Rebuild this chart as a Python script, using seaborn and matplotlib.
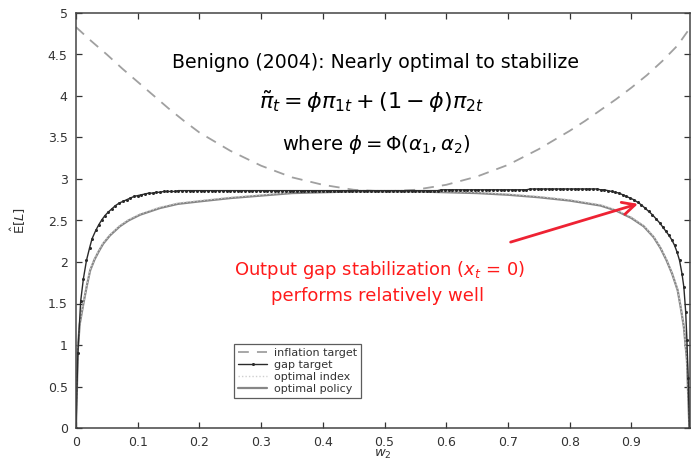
import numpy as np
import pandas as pd
import matplotlib
matplotlib.use("Agg")
import matplotlib.pyplot as plt
import seaborn as sns

# ---------------- data ----------------
infl_x = [0.0, 0.025, 0.05, 0.075, 0.1, 0.125, 0.15, 0.175, 0.2, 0.25, 0.3, 0.35, 0.4,
          0.45, 0.5, 0.55, 0.6, 0.65, 0.7, 0.75, 0.8, 0.825, 0.85, 0.875, 0.9, 0.925,
          0.95, 0.975, 0.995]
infl_y = [4.83, 4.66, 4.50, 4.33, 4.17, 4.01, 3.85, 3.70, 3.56, 3.34, 3.16, 3.02, 2.93,
          2.87, 2.85, 2.87, 2.93, 3.03, 3.17, 3.36, 3.58, 3.70, 3.83, 3.96, 4.10, 4.25,
          4.42, 4.61, 4.82]

gap_x = [0.0, 0.003, 0.0076, 0.012, 0.017, 0.022, 0.026, 0.032, 0.037, 0.042, 0.047,
         0.052, 0.058, 0.064, 0.070, 0.076, 0.082, 0.088, 0.094, 0.100, 0.106, 0.112,
         0.118, 0.124, 0.130, 0.136, 0.142, 0.148, 0.154, 0.160, 0.166, 0.172, 0.178,
         0.184, 0.190, 0.196, 0.202, 0.208, 0.214, 0.220, 0.226, 0.232, 0.238, 0.244,
         0.250, 0.256, 0.262, 0.268, 0.274, 0.280, 0.286, 0.292, 0.298, 0.304, 0.310,
         0.316, 0.322, 0.328, 0.334, 0.340, 0.346, 0.352, 0.358, 0.364, 0.370, 0.376,
         0.382, 0.388, 0.394, 0.400, 0.406, 0.412, 0.418, 0.424, 0.430, 0.436, 0.442,
         0.448, 0.454, 0.460, 0.466, 0.472, 0.478, 0.484, 0.490, 0.496, 0.502, 0.508,
         0.514, 0.520, 0.526, 0.532, 0.538, 0.544, 0.550, 0.556, 0.562, 0.568, 0.574,
         0.580, 0.586, 0.592, 0.598, 0.604, 0.610, 0.616, 0.622, 0.628, 0.634, 0.640,
         0.646, 0.652, 0.658, 0.664, 0.670, 0.676, 0.682, 0.688, 0.694, 0.700, 0.706,
         0.712, 0.718, 0.724, 0.730, 0.736, 0.742, 0.748, 0.754, 0.760, 0.766, 0.772,
         0.778, 0.784, 0.790, 0.796, 0.802, 0.808, 0.814, 0.820, 0.826, 0.832, 0.838,
         0.844, 0.850, 0.856, 0.862, 0.868, 0.874, 0.880, 0.886, 0.892, 0.898, 0.904,
         0.910, 0.916, 0.922, 0.928, 0.934, 0.940, 0.946, 0.951, 0.956, 0.961, 0.966,
         0.970, 0.974, 0.978, 0.982, 0.985, 0.988, 0.990, 0.992, 0.994]
gap_y = [0.0, 0.90, 1.53, 1.80, 2.02, 2.17, 2.28, 2.38, 2.45, 2.51, 2.56,
         2.60, 2.64, 2.68, 2.71, 2.73, 2.75, 2.77, 2.79, 2.80, 2.81, 2.82,
         2.83, 2.83, 2.84, 2.84, 2.85, 2.85, 2.85, 2.85, 2.86, 2.86, 2.86,
         2.86, 2.86, 2.86, 2.86, 2.86, 2.86, 2.86, 2.86, 2.86, 2.86, 2.86,
         2.86, 2.86, 2.86, 2.86, 2.86, 2.86, 2.86, 2.86, 2.86, 2.86, 2.86,
         2.86, 2.86, 2.86, 2.86, 2.86, 2.86, 2.86, 2.86, 2.86, 2.86, 2.86,
         2.86, 2.86, 2.86, 2.86, 2.86, 2.86, 2.86, 2.86, 2.86, 2.86, 2.86,
         2.86, 2.86, 2.86, 2.86, 2.86, 2.86, 2.86, 2.86, 2.86, 2.86, 2.86,
         2.86, 2.86, 2.86, 2.86, 2.86, 2.86, 2.86, 2.86, 2.86, 2.86, 2.86,
         2.86, 2.86, 2.87, 2.87, 2.87, 2.87, 2.87, 2.87, 2.87, 2.87, 2.87,
         2.87, 2.87, 2.87, 2.87, 2.87, 2.87, 2.87, 2.87, 2.87, 2.87, 2.87,
         2.87, 2.87, 2.87, 2.87, 2.88, 2.88, 2.88, 2.88, 2.88, 2.88, 2.88,
         2.88, 2.88, 2.88, 2.88, 2.88, 2.88, 2.88, 2.88, 2.88, 2.88, 2.88,
         2.88, 2.87, 2.87, 2.86, 2.85, 2.84, 2.83, 2.81, 2.79, 2.77, 2.75,
         2.72, 2.69, 2.65, 2.61, 2.57, 2.52, 2.47, 2.42, 2.37, 2.32, 2.26,
         2.20, 2.12, 2.02, 1.86, 1.70, 1.40, 1.06, 0.60, 0.0]

index_x = [0.0, 0.003, 0.006, 0.012, 0.018, 0.023, 0.030, 0.037, 0.044, 0.055, 0.071,
           0.085, 0.104, 0.12, 0.136, 0.165, 0.2, 0.25, 0.3, 0.35, 0.4, 0.45, 0.5, 0.55,
           0.6, 0.65, 0.7, 0.75, 0.8, 0.85, 0.875, 0.9, 0.92, 0.936, 0.947, 0.957, 0.966,
           0.975, 0.98, 0.985, 0.99, 0.994]
index_y = [0.0, 0.96, 1.26, 1.51, 1.74, 1.91, 2.04, 2.14, 2.23, 2.33, 2.44,
           2.51, 2.58, 2.62, 2.66, 2.71, 2.74, 2.78, 2.81, 2.84, 2.85, 2.86, 2.86, 2.86,
           2.85, 2.84, 2.82, 2.79, 2.75, 2.69, 2.63, 2.54, 2.44, 2.31, 2.18, 2.03, 1.87,
           1.67, 1.46, 1.23, 0.83, 0.0]

policy_x = [0.0, 0.003, 0.006, 0.012, 0.018, 0.023, 0.030, 0.037, 0.044, 0.055, 0.071,
            0.085, 0.104, 0.12, 0.136, 0.165, 0.2, 0.25, 0.3, 0.35, 0.4, 0.45, 0.5, 0.55,
            0.6, 0.65, 0.7, 0.75, 0.8, 0.85, 0.875, 0.9, 0.92, 0.936, 0.947, 0.957, 0.966,
            0.975, 0.98, 0.985, 0.99, 0.994]
policy_y = [0.0, 0.95, 1.25, 1.50, 1.73, 1.90, 2.03, 2.13, 2.22, 2.32, 2.43,
            2.50, 2.57, 2.61, 2.65, 2.70, 2.73, 2.77, 2.80, 2.83, 2.84, 2.85, 2.85, 2.85,
            2.84, 2.83, 2.81, 2.78, 2.74, 2.68, 2.62, 2.53, 2.43, 2.30, 2.17, 2.02, 1.86,
            1.66, 1.45, 1.22, 0.82, 0.0]

x_ticks = [0, 0.1, 0.2, 0.3, 0.4, 0.5, 0.6, 0.7, 0.8, 0.9]
x_ticklabels = ["0", "0.1", "0.2", "0.3", "0.4", "0.5", "0.6", "0.7", "0.8", "0.9"]
y_ticks = [0, 0.5, 1, 1.5, 2, 2.5, 3, 3.5, 4, 4.5, 5]
y_ticklabels = ["0", "0.5", "1", "1.5", "2", "2.5", "3", "3.5", "4", "4.5", "5"]

# ---------------- style ----------------
sns.set_style("ticks")
plt.rcParams["font.family"] = ["DejaVu Sans"]
plt.rcParams["mathtext.fontset"] = "dejavusans"

fig = plt.figure(figsize=(6.91, 4.61), dpi=100)
ax = fig.add_axes([76 / 691, 33 / 461, 614 / 691, 415 / 461])

df_infl = pd.DataFrame({"x": infl_x, "y": infl_y})
df_gap = pd.DataFrame({"x": gap_x, "y": gap_y})
df_index = pd.DataFrame({"x": index_x, "y": index_y})
df_policy = pd.DataFrame({"x": policy_x, "y": policy_y})

sns.lineplot(data=df_infl, x="x", y="y", ax=ax, color="#a0a0a0", lw=1.3,
             label="inflation target", sort=False)
ax.lines[-1].set_dashes([6, 4.5])
sns.lineplot(data=df_policy, x="x", y="y", ax=ax, color="#868686", lw=1.6,
             label="optimal policy", sort=False)
sns.lineplot(data=df_index, x="x", y="y", ax=ax, color="#cfcfcf", lw=1.0,
             label="optimal index", sort=False)
ax.lines[-1].set_linestyle((0, (1, 1.5)))
sns.lineplot(data=df_gap, x="x", y="y", ax=ax, color="#2a2a2a", lw=1.0,
             marker="o", markersize=2.2, markeredgewidth=0,
             label="gap target", sort=False)

ax.set_xlim(0, 0.995)
ax.set_ylim(0, 5)
ax.set_xticks(x_ticks)
ax.set_xticklabels(x_ticklabels)
ax.set_yticks(y_ticks)
ax.set_yticklabels(y_ticklabels)
ax.tick_params(direction="in", top=True, right=True, length=4, width=0.9,
               labelsize=9, colors="#333333", pad=6)
for s in ax.spines.values():
    s.set_color("#444444")
    s.set_linewidth(1.1)
    s.set_visible(True)

ax.set_xlabel("$w_2$", fontsize=9.5, color="#333333", labelpad=-1)
ax.set_ylabel(r"$\hat{\mathrm{E}}[L]$", fontsize=9.5, color="#333333", labelpad=14)

# legend order as in the reference
handles, labels = ax.get_legend_handles_labels()
order = ["inflation target", "gap target", "optimal index", "optimal policy"]
hmap = dict(zip(labels, handles))
leg = ax.legend([hmap[k] for k in order], order, loc="lower left",
                bbox_to_anchor=(0.258, 0.072), fontsize=8, frameon=True,
                fancybox=False, handlelength=2.6, borderpad=0.35,
                labelspacing=0.2, handletextpad=0.6, borderaxespad=0)
leg.get_frame().set_edgecolor("#333333")
leg.get_frame().set_linewidth(0.9)
for t in leg.get_texts():
    t.set_color("#333333")

# annotations
fig.text(376 / 691, 1 - 62 / 461, "Benigno (2004): Nearly optimal to stabilize",
         ha="center", va="center", fontsize=13.6, color="black")
fig.text(372 / 691, 1 - 102 / 461,
         r"$\tilde{\pi}_t = \phi\pi_{1t} + (1-\phi)\pi_{2t}$",
         ha="center", va="center", fontsize=16, color="black")
fig.text(376 / 691, 1 - 144 / 461, r"where $\phi = \Phi(\alpha_1, \alpha_2)$",
         ha="center", va="center", fontsize=14, color="black")
fig.text(379 / 691, 1 - 270 / 461, r"Output gap stabilization ($x_t$ = 0)",
         ha="center", va="center", fontsize=13, color="#ff1a1a")
fig.text(378 / 691, 1 - 296 / 461, "performs relatively well",
         ha="center", va="center", fontsize=13, color="#ff1a1a")

ax.annotate("", xy=(0.915, 2.71), xytext=(0.70, 2.23),
            arrowprops=dict(arrowstyle="->,head_length=0.9,head_width=0.45",
                            color="#ee2233", lw=2.0))

fig.savefig("out.png", dpi=100)
